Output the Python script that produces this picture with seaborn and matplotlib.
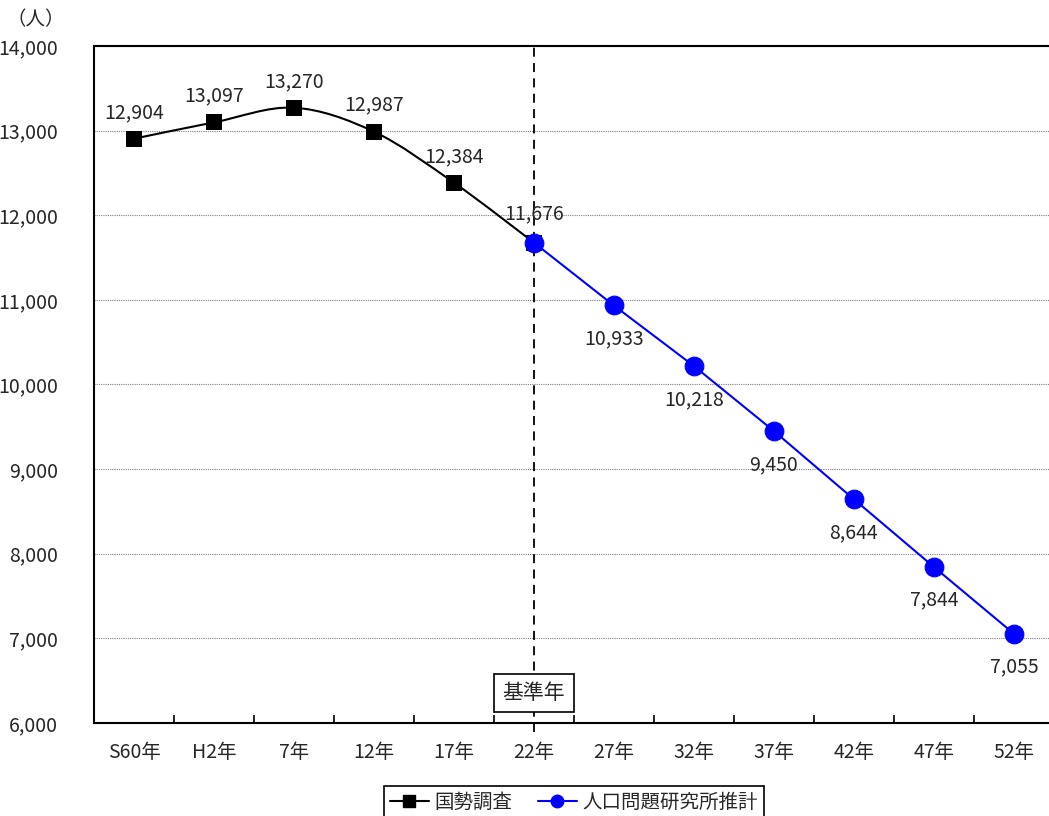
import numpy as np
import pandas as pd
import seaborn as sns
import matplotlib.pyplot as plt
from matplotlib.path import Path
from matplotlib.patches import PathPatch
from matplotlib.lines import Line2D
from matplotlib.ticker import FuncFormatter

# data
years = ["S60年", "H2年", "7年", "12年", "17年", "22年",
         "27年", "32年", "37年", "42年", "47年", "52年"]
census = [12904, 13097, 13270, 12987, 12384, 11676]          # 国勢調査
projection = [11676, 10933, 10218, 9450, 8644, 7844, 7055]   # 人口問題研究所推計
base_year = "22年"

sns.set_theme(style="white")
plt.rcParams['font.family'] = ['Noto Sans CJK JP', 'DejaVu Sans']
plt.rcParams['font.size'] = 14

df_c = pd.DataFrame({"x": np.arange(len(census)), "pop": census})
start = years.index(base_year)
df_p = pd.DataFrame({"x": np.arange(start, start + len(projection)), "pop": projection})

fig = plt.figure(figsize=(10.49, 8.16), dpi=100)
ax = fig.add_axes([0.0896, 0.114, 0.915, 0.8297])

# smoothed census line (Catmull-Rom style bezier through the points)
xc = df_c["x"].to_numpy(float)
yc = df_c["pop"].to_numpy(float)
n = len(xc)
verts = [(xc[0], yc[0])]
codes = [Path.MOVETO]
for i in range(n - 1):
    a = max(i - 1, 0)
    b = min(i + 2, n - 1)
    c1 = (xc[i] + (xc[i + 1] - xc[a]) / 6, yc[i] + (yc[i + 1] - yc[a]) / 6)
    c2 = (xc[i + 1] - (xc[b] - xc[i]) / 6, yc[i + 1] - (yc[b] - yc[i]) / 6)
    verts += [c1, c2, (xc[i + 1], yc[i + 1])]
    codes += [Path.CURVE4] * 3
ax.add_patch(PathPatch(Path(verts, codes), fill=False, edgecolor="black", lw=1.5, zorder=3))
sns.scatterplot(data=df_c, x="x", y="pop", marker="s", s=140, color="black",
                edgecolor="black", linewidth=0, zorder=4, ax=ax)

# projection line
sns.lineplot(data=df_p, x="x", y="pop", color="blue", marker="o", markersize=13.5,
             markeredgecolor="blue", lw=1.5, zorder=4, ax=ax)

# data labels
for i, v in enumerate(census):
    off = 21 if i == len(census) - 1 else 19
    ax.annotate(f"{v:,}", (i, v), xytext=(0, off), textcoords="offset points",
                ha="center", va="center", fontsize=14)
for x, v in zip(df_p["x"][1:], projection[1:]):
    ax.annotate(f"{v:,}", (x, v), xytext=(0, -24), textcoords="offset points",
                ha="center", va="center", fontsize=14)

# base year marker
ax.axvline(start, ymin=-0.013, ymax=1, color="black", ls=(0, (5, 3.5)), lw=1.3,
           clip_on=False, zorder=2)
ax.text(start, 6355, "基準年", ha="center", va="center", fontsize=15, zorder=5,
        bbox=dict(boxstyle="square,pad=0.4", fc="white", ec="black", lw=1.2))

# axes
ax.set_xlim(-0.5, len(years) - 0.5)
ax.set_ylim(6000, 14000)
ax.set_yticks(range(6000, 14001, 1000))
ax.yaxis.set_major_formatter(FuncFormatter(lambda v, p: f"{int(v):,}"))
ax.set_xticks(range(len(years)))
ax.set_xticklabels(years)
ax.set_xticks(np.arange(0.5, len(years) - 0.5, 1), minor=True)
ax.tick_params(axis="x", which="major", length=0, pad=14, labelsize=14)
ax.tick_params(axis="x", which="minor", direction="in", length=6, width=1.2,
               color="black", bottom=True)
ax.tick_params(axis="y", length=0, pad=26, labelsize=14)
ax.yaxis.grid(True, linestyle=(0, (1, 1)), color="#808080", lw=0.8)
ax.xaxis.grid(False)
ax.set_xlabel("")
ax.set_ylabel("")
for s in ["left", "bottom", "top", "right"]:
    ax.spines[s].set_color("black")
    ax.spines[s].set_linewidth(1.5)

fig.text(7 / 1049, 1 - 20 / 816, "（人）", ha="left", va="center", fontsize=14)

handles = [
    Line2D([], [], color="black", marker="s", markersize=8, lw=1.5),
    Line2D([], [], color="blue", marker="o", markersize=9, lw=1.5),
]
leg = fig.legend(handles, ["国勢調査", "人口問題研究所推計"], loc="upper center",
                 bbox_to_anchor=(574 / 1049, 1 - 786 / 816), ncol=2, frameon=True,
                 fancybox=False, edgecolor="black", framealpha=1, fontsize=14,
                 handlelength=2, handletextpad=0.3, columnspacing=1.3,
                 borderpad=0.3, borderaxespad=0)
leg.get_frame().set_linewidth(1.2)

fig.savefig("out.png", dpi=100)
